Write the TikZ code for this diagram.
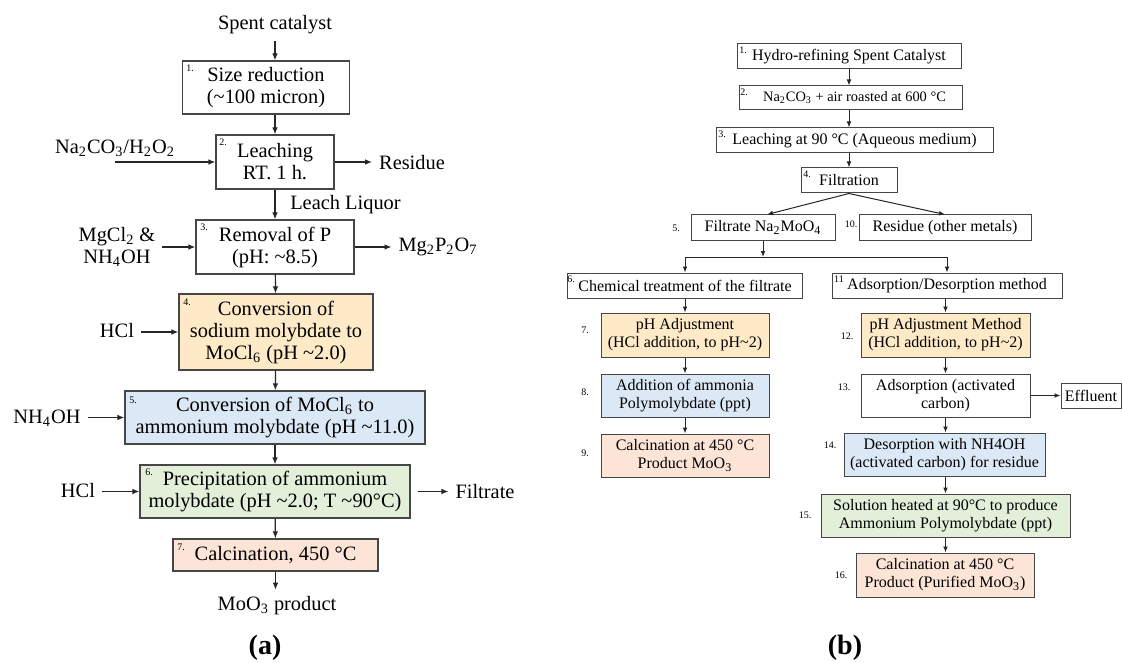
\documentclass[tikz,border=0pt]{standalone}
\usepackage{fontspec}
\setmainfont{Liberation Serif}
\usetikzlibrary{arrows.meta}

\definecolor{fillorange}{RGB}{254,234,198}
\definecolor{fillblue}{RGB}{219,232,246}
\definecolor{fillgreen}{RGB}{226,239,217}
\definecolor{fillsalmon}{RGB}{252,228,214}
\definecolor{boxline}{RGB}{70,70,70}
\newcommand{\subs}[1]{\textsubscript{#1}}

\begin{document}
\begin{tikzpicture}[x=0.5pt, y=-0.5pt,
    stage/.style={draw=boxline, line width=0.6pt, align=center, inner sep=0pt, font=\fontsize{10.2}{11}\selectfont},
    stageb/.style={stage, line width=0.5pt, font=\fontsize{8}{9}\selectfont},
    sz/.style 2 args={minimum width=#1*0.5pt, minimum height=#2*0.5pt},
    txt/.style={align=center, font=\fontsize{10.2}{11}\selectfont},
    numlbl/.style={inner sep=0pt, font=\fontsize{5}{6}\selectfont},
    flow/.style={draw=black!85, line width=0.6pt, -{Latex[length=3.5pt,width=2.8pt]}},
    flowb/.style={flow, line width=0.5pt, -{Latex[length=3pt,width=2.4pt]}},
    panelcap/.style={font=\fontsize{14}{16}\selectfont\bfseries}
  ]
  \useasboundingbox (0,0) rectangle (1123,663);

  % panel (a)
  \node[txt] (spent) at (275,25) {Spent catalyst};
  \node[stage, sz={167}{53}] (a1) at (266,87.5) {Size reduction\\(\textasciitilde100 micron)};
  \node[stage, sz={118}{54}] (a2) at (275,162) {Leaching\\RT. 1 h.};
  \node[stage, sz={158}{54}] (a3) at (275,247) {Removal of P\\(pH: \textasciitilde8.5)};
  \node[stage, sz={194}{76}, fill=fillorange] (a4) at (276,332) {Conversion of\\sodium molybdate to\\MoCl\subs{6} (pH \textasciitilde2.0)};
  \node[stage, sz={300}{53}, fill=fillblue] (a5) at (275,417.5) {Conversion of MoCl\subs{6} to\\ammonium molybdate (pH \textasciitilde11.0)};
  \node[stage, sz={270}{53}, fill=fillgreen] (a6) at (275,491.5) {Precipitation of ammonium\\molybdate (pH \textasciitilde2.0; T \textasciitilde90°C)};
  \node[stage, sz={205}{32}, fill=fillsalmon] (a7) at (275.5,555) {Calcination, 450 °C};
  \node[txt] (moo) at (277,606) {MoO\subs{3} product};

  \node[txt] (naco) at (115,148) {Na\subs{2}CO\subs{3}/H\subs{2}O\subs{2}};
  \node[txt] (mgcl) at (117,247) {MgCl\subs{2} \&\\NH\subs{4}OH};
  \node[txt] (hcla) at (117,331) {HCl};
  \node[txt] (nhoh) at (47,418) {NH\subs{4}OH};
  \node[txt] (hclb) at (78,491) {HCl};
  \node[txt] (resa) at (412,163) {Residue};
  \node[txt] (mgpo) at (438,247) {Mg\subs{2}P\subs{2}O\subs{7}};
  \node[txt] (filt) at (485,492) {Filtrate};

  \foreach \n/\x/\y in {1/190/68, 2/223/142, 3/204/227, 4/187/302, 5/133/400, 6/149/472, 7/181/547}
    \node[numlbl] (la\n) at (\x,\y) {\n.};

  \draw[flow] (spent) -- (spent |- a1.north);
  \draw[flow] (a1.south -| a2) -- (a2);
  \draw[flow] (a2) -- node[txt, right, xshift=4pt] (leach) {Leach Liquor} (a3);
  \draw[flow] (a3) -- (a4);
  \draw[flow] (a4) -- (a5);
  \draw[flow] (a5) -- (a6);
  \draw[flow] (a6) -- (a7);
  \draw[flow] (a7) -- (a7 |- moo.north);

  \draw[flow] (naco.south |- a2.west) -- (a2.west);
  \draw[flow] (mgcl.east |- a3.west) -- (a3.west);
  \draw[flow] (hcla.east |- a4.west) -- (a4.west);
  \draw[flow] (nhoh.east |- a5.west) -- (a5.west);
  \draw[flow] (hclb.east |- a6.west) -- (a6.west);
  \draw[flow] (a2.east) -- (a2.east -| resa.west);
  \draw[flow] (a3.east) -- (a3.east -| mgpo.west);
  \draw[flow] ([xshift=3.5pt]a6.east) -- (a6.east -| filt.west);

  \node[panelcap] (capa) at (265,648) {(a)};

  % panel (b)
  \node[stageb, sz={224}{25}] (b1) at (849,56.5) {Hydro-refining Spent Catalyst};
  \node[stageb, sz={223}{24}, font=\fontsize{7.2}{9}\selectfont] (b2) at (850.5,98) {\hspace{4pt}Na\subs{2}CO\subs{3} + air roasted at 600 °C};
  \node[stageb, sz={277}{25}] (b3) at (854.5,140.5) {Leaching at 90 °C (Aqueous medium)};
  \node[stageb, sz={96}{25}] (b4) at (849,180.5) {Filtration};
  \node[stageb, sz={144}{25}] (b5) at (763,227.5) {Filtrate Na\subs{2}MoO\subs{4}};
  \node[stageb, sz={172}{25}] (b10) at (945,227.5) {Residue (other metals)};
  \node[stageb, sz={235}{25}] (b6) at (685,285.5) {Chemical treatment of the filtrate};
  \node[stageb, sz={230}{25}] (b11) at (947,285.5) {Adsorption/Desorption method};
  \node[stageb, sz={168}{44}, fill=fillorange] (b7) at (685,335) {pH Adjustment\\(HCl addition, to pH\textasciitilde2)};
  \node[stageb, sz={168}{43}, fill=fillblue] (b8) at (685,395.5) {Addition of ammonia\\Polymolybdate (ppt)};
  \node[stageb, sz={168}{43}, fill=fillsalmon] (b9) at (685,455.5) {Calcination at 450 °C\\Product MoO\subs{3}};
  \node[stageb, sz={169}{44}, fill=fillorange] (b12) at (945.5,335) {pH Adjustment Method\\(HCl addition, to pH\textasciitilde2)};
  \node[stageb, sz={169}{43}] (b13) at (945.5,395.5) {Adsorption (activated\\carbon)};
  \node[stageb, sz={60}{25}] (eff) at (1091,395.5) {Effluent};
  \node[stageb, sz={201}{43}, fill=fillblue] (b14) at (944.5,454.5) {Desorption with NH4OH\\(activated carbon) for residue};
  \node[stageb, sz={249}{43}, fill=fillgreen] (b15) at (945.5,515.5) {Solution heated at 90°C to produce\\Ammonium Polymolybdate (ppt)};
  \node[stageb, sz={178}{44}, fill=fillsalmon] (b16) at (945,575) {Calcination at 450 °C\\Product (Purified MoO\subs{3})};

  \foreach \n/\x/\y in {1/743/50, 2/744/92, 3/722/134, 4/807/174, 5/676/228, 6/571/279, 7/585/330, 8/585/392, 9/585/453,
                        10/851/224, 12/847/336, 13/844/387, 14/830/445, 15/805/515, 16/841/575}
    \node[numlbl] (lb\n) at (\x,\y) {\n.};
  \node[numlbl] (lb11) at (839,279) {11};

  \draw[flowb] (b1.south -| b4) -- (b2.north -| b4);
  \draw[flowb] (b2.south -| b4) -- (b3.north -| b4);
  \draw[flowb] (b3.south -| b4) -- (b4);
  \draw[flowb] (b4.south) -- ([xshift=2pt]b5.north);
  \draw[flowb] (b4.south) -- (b10.north);
  \coordinate (fork) at (763,257);
  \draw[flowb] (b5) -- (fork);
  \draw[flowb] (fork) -| (b6);
  \draw[flowb] (fork) -| (b11);
  \draw[flowb] (b6) -- (b7);
  \draw[flowb] (b7) -- (b8);
  \draw[flowb] (b8) -- (b9);
  \draw[flowb] (b11.south -| b12) -- (b12);
  \draw[flowb] (b12) -- (b13);
  \draw[flowb] (b13) -- (b14.north -| b13);
  \draw[flowb] (b14.south -| b13) -- (b15);
  \draw[flowb] (b15) -- (b16.north -| b15);
  \draw[flowb] (b13) -- (eff);

  \node[panelcap] (capb) at (845,648) {(b)};
\end{tikzpicture}
\end{document}
